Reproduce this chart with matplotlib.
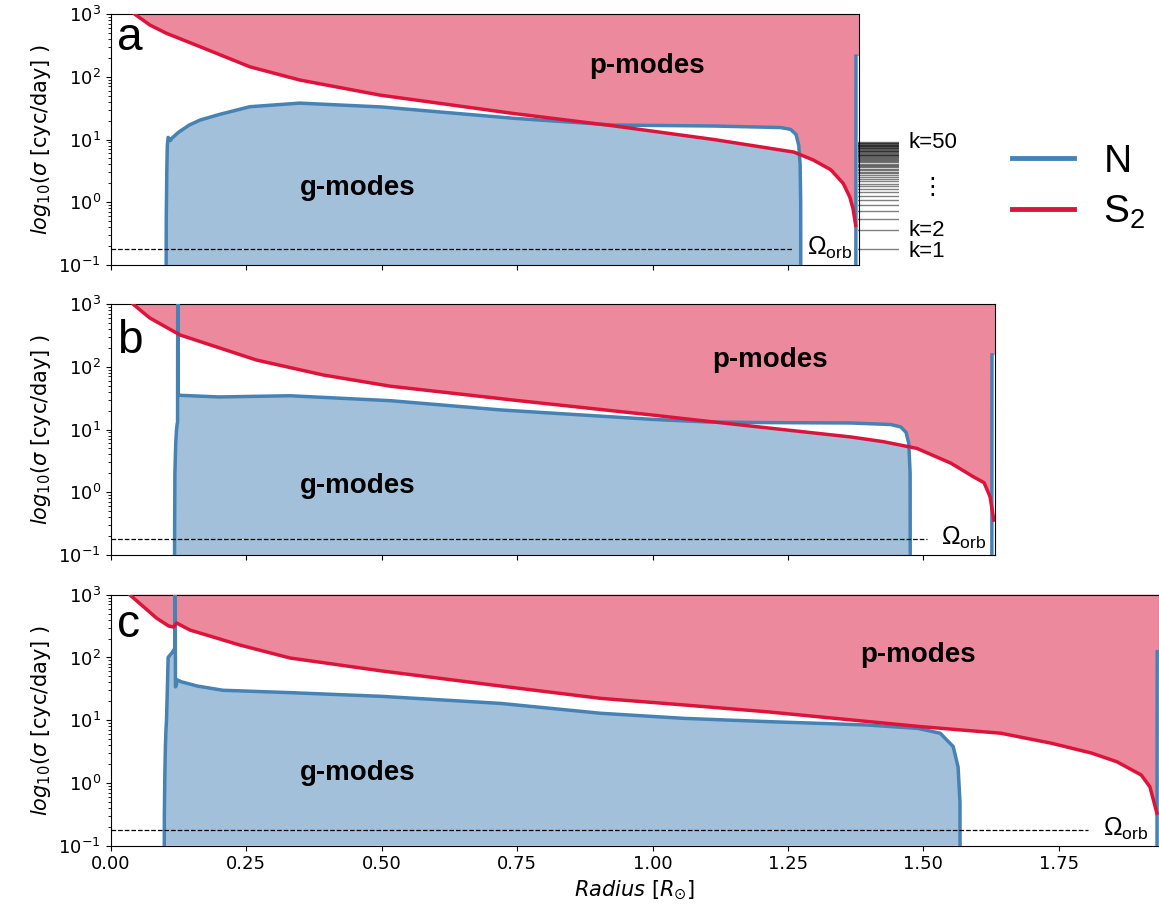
import numpy as np
import matplotlib
matplotlib.use("Agg")
import matplotlib.pyplot as plt
from matplotlib.path import Path
from matplotlib.lines import Line2D

# ---------------- data (radius in R_sun, frequencies in cyc/day) ----------------
omega_orb = 0.18
harmonics = list(range(1, 51))

# model a
radius_a = 1.381
r_N_a = [0.0, 0.102, 0.1025, 0.1035, 0.1045, 0.106, 0.108, 0.110, 0.113, 0.125, 0.145,
         0.165, 0.20, 0.257, 0.349, 0.50, 0.743, 0.928, 1.113, 1.237, 1.255, 1.265,
         1.270, 1.2725, 1.2735, 1.274, 1.3752, 1.3756]
N_a = [1e-3, 1e-3, 0.5, 3, 8, 10.8, 10.3, 9.6, 10.5, 13, 17,
       20.4, 25, 33.3, 38, 33, 21.8, 17, 16.4, 15.5, 14.5, 12,
       8, 4, 1, 1e-3, 1e-3, 214]
r_S_a = [0.02, 0.044, 0.072, 0.103, 0.165, 0.257, 0.349, 0.497, 0.743, 0.928, 1.113,
         1.261, 1.297, 1.329, 1.352, 1.364, 1.370, 1.375]
S2_a = [2800, 1000, 670, 492, 301, 144, 88.7, 51, 26, 16.5, 10,
        6.3, 4.7, 3.3, 2.0, 1.22, 0.8, 0.43]

# model b
radius_b = 1.632
r_N_b = [0.0, 0.1175, 0.118, 0.1185, 0.120, 0.1215, 0.1228, 0.1234, 0.1238, 0.1245,
         0.13, 0.20, 0.331, 0.516, 0.72, 1.0, 1.1, 1.2, 1.366, 1.44, 1.458, 1.468,
         1.473, 1.4755, 1.476, 1.6262, 1.6266]
N_b = [1e-3, 1e-3, 0.3, 2, 6, 10, 12.5, 12.7, 5000, 35.6,
       35, 33, 34.5, 28.8, 20.5, 14.5, 13.2, 12.9, 12.7, 12, 11, 9,
       6, 2, 1e-3, 1e-3, 154]
r_S_b = [0.02, 0.041, 0.072, 0.128, 0.269, 0.392, 0.516, 0.75, 1.0, 1.07, 1.2,
         1.366, 1.426, 1.488, 1.551, 1.592, 1.612, 1.623, 1.630]
S2_b = [3000, 1000, 600, 321, 128, 74, 49, 29, 17, 14.5, 10.9,
        7.6, 6.4, 5.0, 2.9, 1.77, 1.42, 0.85, 0.36]

# model c
radius_c = 1.935
r_N_c = [0.0, 0.0985, 0.099, 0.100, 0.101, 0.102, 0.103, 0.1045, 0.106, 0.109, 0.113,
         0.116, 0.1185, 0.119, 0.1195, 0.1210, 0.1225, 0.13, 0.16, 0.207, 0.331, 0.5,
         0.72, 0.904, 1.058, 1.212, 1.395, 1.49, 1.531, 1.555, 1.564, 1.5675, 1.568,
         1.9310, 1.9315]
N_c = [1e-3, 1e-3, 0.3, 1.5, 4, 7, 10, 30, 100, 108, 118,
       130, 140, 5000, 34, 36, 44, 41, 35, 30, 27.5, 24,
       18.5, 12.9, 10.7, 9.5, 8.4, 7.4, 6.2, 3.8, 1.8, 0.5, 1e-3,
       1e-3, 123]
r_S_c = [0.015, 0.035, 0.085, 0.107, 0.116, 0.1215, 0.146, 0.238, 0.331, 0.5, 0.72,
         0.904, 1.058, 1.212, 1.495, 1.643, 1.736, 1.81, 1.857, 1.902, 1.918, 1.931]
S2_c = [3000, 1000, 421, 317, 305, 355, 274, 158, 98, 61, 35,
        22.3, 17.5, 13.6, 7.9, 6.2, 4.3, 3.0, 2.18, 1.34, 0.87, 0.33]

panel_letters = ["a", "b", "c"]
xtick_values = [0.0, 0.25, 0.5, 0.75, 1.0, 1.25, 1.5, 1.75]

# ---------------- layout ----------------
W, H = 1159, 918
PX_PER_R = 541.8
LEFT_PX = 110.7
YMIN, YMAX = 0.1, 1000
fig = plt.figure(figsize=(W / 100, H / 100), dpi=100)

BLUE = "steelblue"
RED = "crimson"
SANS = "Liberation Sans"


def region_path(x, y, edge, x_right):
    """Closed region between a curve and a horizontal edge, kept inside the axes box."""
    yc = np.clip(np.asarray(y, float), YMIN, YMAX)
    verts = ([(x[0], edge)] + list(zip(x, yc)) +
             [(x_right, yc[-1]), (x_right, edge), (x[0], edge)])
    return Path(verts, closed=True)


def draw_panel(bottom_px, radius, rN, N, rS, S, letter, letter_y,
               p_pos, g_pos, dash_end, omega_right, show_xlabels):
    lo, hi = 1e-4, 1e5
    ax = fig.add_axes([LEFT_PX / W, (H - bottom_px) / H,
                       radius * PX_PER_R / W, 251 / H])
    ax.set_yscale("log")
    ax.set_xlim(0, radius)
    ax.set_ylim(YMIN, YMAX)

    # g-mode cavity: below both N and S2
    g_fill = ax.fill_between(rN, lo, N, color=BLUE, alpha=0.5, lw=0, zorder=1)
    g_fill.set_clip_path(region_path(rS, S, YMIN, rS[-1]), ax.transData)
    # p-mode cavity: above both N and S2
    p_fill = ax.fill_between(list(rS) + [radius], list(S) + [S[-1]], hi,
                             color=RED, alpha=0.5, lw=0, zorder=1)
    p_fill.set_clip_path(region_path(rN, N, YMAX, radius), ax.transData)

    ax.plot(rN, N, color=BLUE, lw=2.5, zorder=3, solid_joinstyle="round")
    ax.plot(rS, S, color=RED, lw=2.5, zorder=4, solid_joinstyle="round")

    ax.plot([0, dash_end], [omega_orb, omega_orb], color="k", ls="--", lw=0.9, zorder=5)
    ax.text(omega_right, 0.144, r"$\mathregular{\Omega_{orb}}$", fontsize=18,
            family=SANS, ha="right", va="baseline", zorder=6)

    ax.text(0.012, letter_y, letter, fontsize=33, family=SANS, va="baseline", zorder=6)
    ax.text(p_pos[0], p_pos[1], "p-modes", fontsize=20, family=SANS, weight="bold",
            ha="center", va="baseline", zorder=6)
    ax.text(g_pos[0], g_pos[1], "g-modes", fontsize=20, family=SANS, weight="bold",
            ha="center", va="baseline", zorder=6)

    ax.set_xticks([t for t in xtick_values if t <= radius])
    ax.tick_params(labelsize=13)
    if not show_xlabels:
        ax.tick_params(labelbottom=False)
    ax.set_ylabel(r"$log_{10}(\sigma$ [cyc/day] )", fontsize=15)
    return ax


ax_a = draw_panel(265, radius_a, r_N_a, N_a, r_S_a, S2_a, panel_letters[0], 270,
                  (0.99, 113), (0.456, 1.30), 1.259, 1.370, False)
ax_b = draw_panel(555, radius_b, r_N_b, N_b, r_S_b, S2_b, panel_letters[1], 166,
                  (1.217, 99), (0.455, 0.97), 1.507, 1.617, False)
ax_c = draw_panel(845.7, radius_c, r_N_c, N_c, r_S_c, S2_c, panel_letters[2], 212,
                  (1.49, 85.5), (0.455, 1.11), 1.804, 1.916, True)
ax_c.set_xlabel(r"$Radius$ [$R_{\odot}$]", fontsize=15)

# orbital harmonics k * Omega_orb beside the top panel
ax_k = fig.add_axes([858.3 / W, (H - 265) / H, 41 / W, 251 / H], sharey=ax_a)
ax_k.set_xlim(0, 1)
ax_k.axis("off")
for k in harmonics:
    ax_k.axhline(k * omega_orb, color="k", alpha=0.5, lw=1)
ytrans = ax_k.get_yaxis_transform()
k_label_y = {50: 50 * omega_orb, 2: 2 * omega_orb, 1: 0.162}
for k, yk in k_label_y.items():
    ax_k.text(1.22, yk, f"k={k}", transform=ytrans, fontsize=16,
              family=SANS, va="center", ha="left")
ax_k.text(1.70, 1.72, r"$\vdots$", transform=ytrans, fontsize=17,
          va="center", ha="center")

handles = [Line2D([], [], color=BLUE, lw=3.5), Line2D([], [], color=RED, lw=3.5)]
fig.legend(handles, ["N", r"$\mathregular{S_2}$"], loc="center left",
           bbox_to_anchor=(1012 / W, 1 - 187.5 / H), frameon=False,
           prop={"family": SANS, "size": 28}, handlelength=1.6,
           handletextpad=0.75, labelspacing=0.35, borderpad=0, borderaxespad=0)

fig.savefig("out.png", dpi=100)
